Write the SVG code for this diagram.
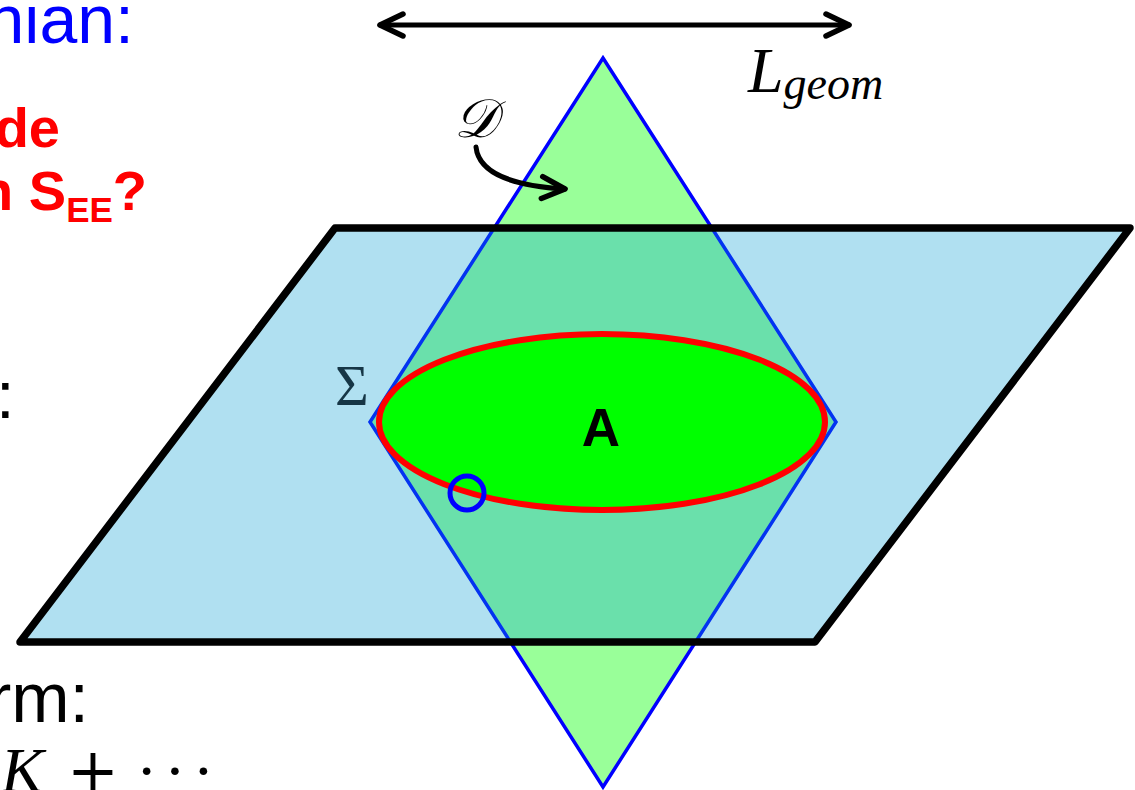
<svg xmlns="http://www.w3.org/2000/svg" width="1135" height="790" viewBox="0 0 1135 790">
<defs>
<style>
.sans{font-family:"Liberation Sans",Arial,sans-serif}
.serif{font-family:"Liberation Serif","Times New Roman",serif}
.conn{fill:none;stroke:#000;stroke-width:5;stroke-linecap:round}
</style>
<marker id="chev" viewBox="-30 -15 34 30" markerWidth="34" markerHeight="30" refX="0" refY="0" orient="auto-start-reverse" markerUnits="userSpaceOnUse">
<path d="M-23,-11 L0,0 L-23,11" fill="none" stroke="#000" stroke-width="5.5" stroke-linecap="round" stroke-linejoin="round"/>
</marker>
</defs>
<rect width="1135" height="790" fill="#fff"/>
<g id="left-text">
<text class="sans" x="134" y="43" font-size="68" fill="#0000ff" text-anchor="end">nian:</text>
<text class="sans" x="60" y="147" font-size="56" font-weight="bold" fill="#ff0000" text-anchor="end">de</text>
<text class="sans" x="-21" y="210" font-size="56" font-weight="bold" fill="#ff0000">n S<tspan font-size="35" dy="12">EE</tspan><tspan dy="-12">?</tspan></text>
<text class="sans" x="-4" y="418" font-size="67" fill="#000">:</text>
<text class="sans" x="-12" y="722" font-size="70" fill="#000">rm:</text>
<text class="serif" x="1" y="792" font-size="64" font-style="italic" fill="#000">K</text>
<text x="93" y="792" font-size="62" fill="#000" text-anchor="middle" font-family="DejaVu Serif,serif">+</text>
<text class="serif" x="136" y="792" font-size="64" fill="#000" letter-spacing="7">···</text>
</g>
<g id="diamond">
<polygon points="603,58 836,422 603,787 370,422" fill="#99ff99" stroke="#0000ff" stroke-width="3.5" stroke-linejoin="miter"/>
</g>
<g id="plane">
<polygon points="335,228 1130,228 815,642 20,642" fill="#0aa0d2" fill-opacity="0.32" stroke="#000" stroke-width="7.5" stroke-linejoin="round" stroke-linecap="round"/>
</g>
<g id="region-A">
<ellipse cx="602" cy="422" rx="223" ry="88" fill="#00ff00" stroke="#ff0000" stroke-width="6"/>
<text class="sans" x="601" y="446" font-size="53" font-weight="bold" fill="#000" text-anchor="middle">A</text>
</g>
<g id="point">
<circle cx="467" cy="493" r="17" fill="none" stroke="#0000ff" stroke-width="5"/>
</g>
<g id="labels">
<text class="serif" x="335" y="405" font-size="58" fill="#163646">Σ</text>
<text x="454" y="137" font-size="54" font-style="italic" fill="#000" font-family="DejaVu Serif,serif">𝒟</text>
<text class="serif" x="748" y="92" font-size="64" font-style="italic" fill="#000">L<tspan font-size="46" dy="7">geom</tspan></text>
</g>
<g id="connectors">
<line class="conn" x1="380" y1="25" x2="849" y2="25" marker-start="url(#chev)" marker-end="url(#chev)"/>
<path class="conn" d="M476,147 C479,176 518,186 565,189" marker-end="url(#chev)"/>
</g>
</svg>
